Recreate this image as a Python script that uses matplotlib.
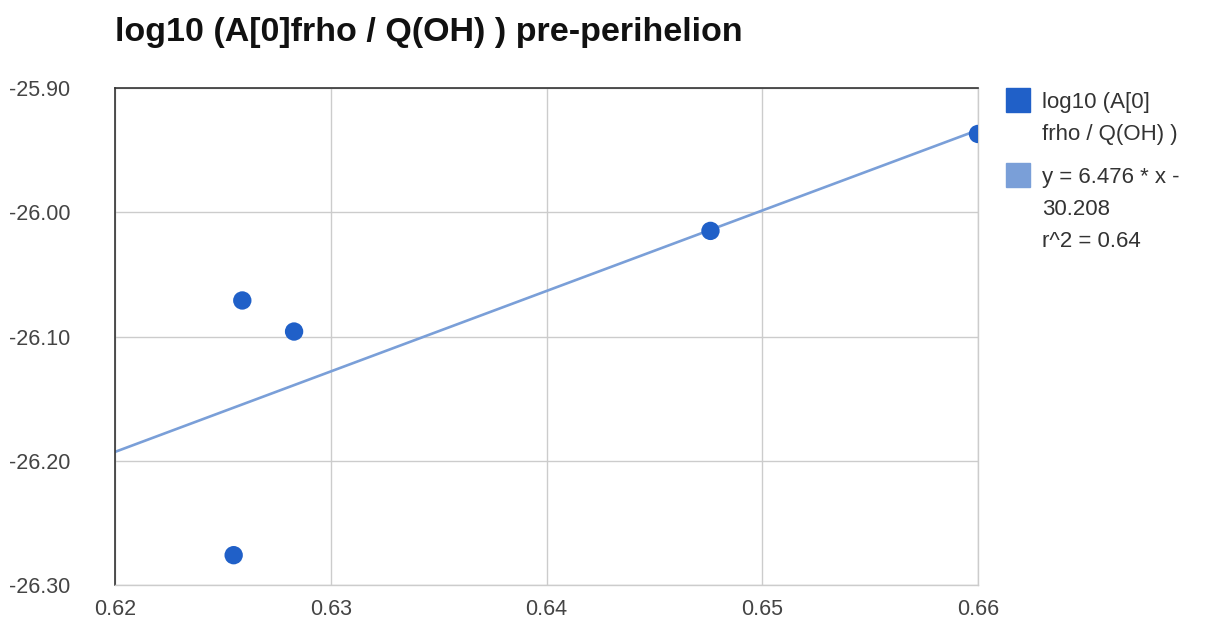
import numpy as np
import matplotlib.pyplot as plt
from matplotlib.patches import Rectangle

plt.rcParams['font.family'] = ['Liberation Sans', 'DejaVu Sans']

# data
x_vals = [0.6255, 0.6259, 0.6283, 0.6476, 0.6600]
y_vals = [-26.276, -26.071, -26.096, -26.015, -25.937]
slope, intercept = 6.476, -30.208
x_ticks = [0.62, 0.63, 0.64, 0.65, 0.66]
y_ticks = [-26.30, -26.20, -26.10, -26.00, -25.90]
series_label = 'log10 (A[0]\nfrho / Q(OH) )'
trend_label = 'y = 6.476 * x -\n30.208\nr^2 = 0.64'
title = 'log10 (A[0]frho / Q(OH) ) pre-perihelion'

dot_color = '#2060c8'
trend_color = '#7a9fd8'

fig = plt.figure(figsize=(12.11, 6.28), dpi=100)
ax = fig.add_axes([115 / 1211, 1 - 585 / 628, 863 / 1211, 497 / 628])

# trendline
xt = np.array([x_ticks[0], x_ticks[-1]])
ax.plot(xt, slope * xt + intercept, color=trend_color, lw=1.9, zorder=2)

# points
ax.scatter(x_vals, y_vals, s=175, color=dot_color, edgecolors='none', zorder=3)

ax.set_xlim(x_ticks[0], x_ticks[-1])
ax.set_ylim(y_ticks[0], y_ticks[-1])
ax.set_xticks(x_ticks)
ax.set_yticks(y_ticks)
ax.set_xticklabels([f'{v:.2f}' for v in x_ticks])
ax.set_yticklabels([f'{v:.2f}' for v in y_ticks])
ax.tick_params(length=0, labelsize=15.5, colors='#444444')
ax.tick_params(axis='y', pad=32)
ax.tick_params(axis='x', pad=10)
ax.grid(True, color='#cccccc', lw=1)
ax.set_axisbelow(True)

for side in ['left', 'top']:
    ax.spines[side].set_color('#333333')
    ax.spines[side].set_linewidth(1.2)
for side in ['right', 'bottom']:
    ax.spines[side].set_color('#cccccc')
    ax.spines[side].set_linewidth(1)

fig.text(115 / 1211, 1 - 32 / 628, title, fontsize=24.5, fontweight='bold',
         va='center', ha='left', color='#111111')

# legend, drawn by hand to match wrapped text
entries = [(dot_color, series_label, 88), (trend_color, trend_label, 163)]
for color, label, top in entries:
    fig.patches.append(Rectangle((1006 / 1211, 1 - (top + 24) / 628), 24 / 1211, 24 / 628,
                                 transform=fig.transFigure, color=color))
    fig.text(1042 / 1211, 1 - (top + 4) / 628, label, fontsize=16, color='#333333',
             va='top', ha='left', linespacing=1.7)

fig.savefig('out.png', dpi=100)
